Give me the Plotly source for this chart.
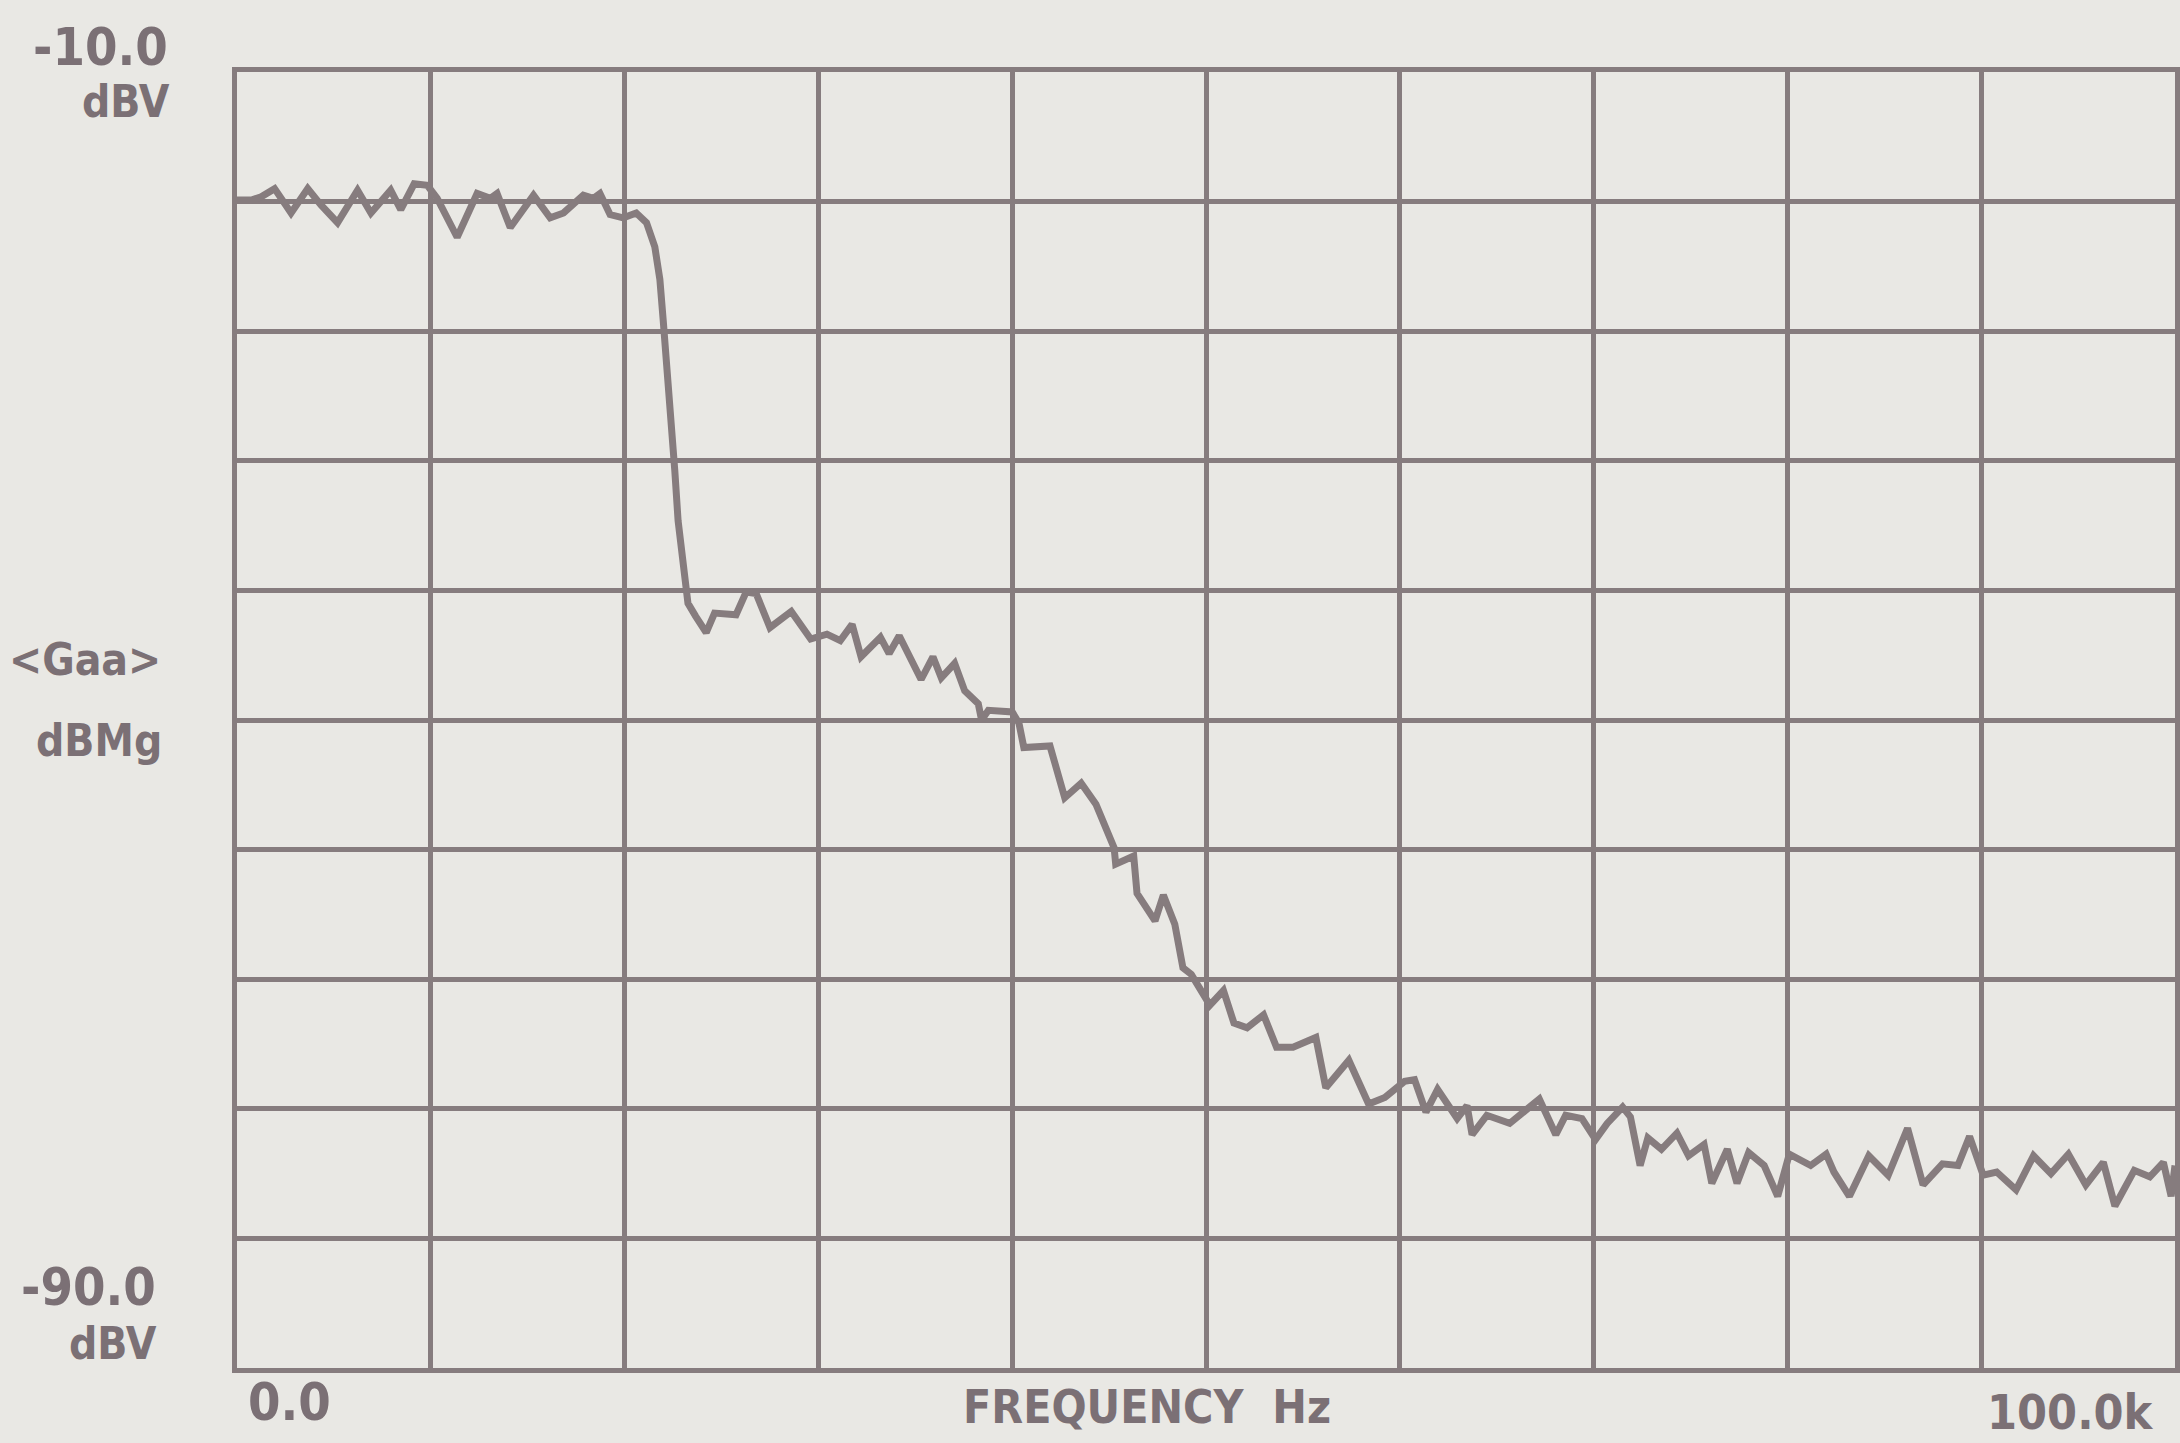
import plotly.graph_objects as go

# Frequency (kHz) and level (dB)
freq_khz = [
    0.0, 0.74, 1.25, 1.94, 2.79, 3.65, 4.33, 5.19, 6.22, 6.91, 7.93, 8.45, 9.14, 9.82,
    10.33, 11.36, 12.39, 13.07, 13.42, 14.1, 15.3, 16.16, 16.85, 17.87, 18.39, 18.73,
    19.25, 19.93, 20.6, 21.13, 21.56, 21.82, 21.99, 22.16, 22.42, 22.59, 22.76, 23.02,
    23.27, 23.67, 24.21, 24.64, 25.41, 25.75, 26.27, 26.79, 27.5, 28.6, 29.6, 30.44,
    31.13, 31.74, 32.2, 33.2, 33.65, 34.17, 35.3, 35.91, 36.34, 37.03, 37.55, 38.25,
    38.42, 38.77, 40.0, 40.35, 40.6, 41.95, 42.71, 43.56, 44.32, 45.26, 45.34, 46.27,
    46.44, 47.37, 47.8, 48.39, 48.81, 49.24, 50.2, 50.9, 51.44, 52.12, 52.97, 53.64,
    54.49, 55.67, 56.18, 57.37, 58.39, 59.23, 60.25, 60.76, 61.35, 61.95, 62.96, 63.47,
    63.73, 64.49, 65.67, 67.2, 68.05, 68.56, 69.4, 70.1, 70.7, 71.5, 71.9, 72.4, 72.8,
    73.5, 74.3, 74.9, 75.7, 76.1, 76.9, 77.4, 78.0, 78.8, 79.5, 80.1, 81.2, 82.0, 82.4,
    83.2, 84.2, 85.2, 86.2, 87.0, 88.0, 88.8, 89.4, 90.1, 90.8, 91.8, 92.7, 93.6, 94.5,
    95.4, 96.3, 96.9, 97.9, 98.7, 99.4, 99.8, 100.0,
]
level_db = [
    -17.9, -17.9, -17.7, -17.2, -18.7, -17.2, -18.2, -19.3, -17.3, -18.7, -17.3, -18.5, -16.9, -17.0,
    -17.8, -20.2, -17.5, -17.8, -17.5, -19.6, -17.6, -19.0, -18.7, -17.6, -17.8, -17.5,
    -18.8, -19.0, -18.7, -19.3, -20.8, -22.8, -25.3, -28.4, -31.5, -34.6, -37.7, -40.8,
    -42.8, -43.6, -44.6, -43.4, -43.4, -43.5, -42.1, -42.2, -44.3, -43.3, -45.0, -44.7,
    -45.1, -44.1, -46.1, -44.9, -45.9, -44.8, -47.5, -46.1, -47.4, -46.5, -48.2, -49.0,
    -50.0, -49.4, -49.5, -50.2, -51.7, -51.6, -54.8, -53.9, -55.2, -57.9, -58.9, -58.4,
    -60.7, -62.4, -60.8, -62.6, -65.3, -65.7, -67.6, -66.7, -68.7, -69.0, -68.2, -70.2,
    -70.2, -69.6, -72.7, -71.0, -73.7, -73.3, -72.3, -72.2, -74.2, -72.8, -74.6, -73.8,
    -75.6, -74.4, -74.9, -73.4, -75.6, -74.4, -74.6, -75.9, -74.9, -73.9, -74.5, -77.5, -75.8,
    -76.5, -75.5, -76.9, -76.2, -78.6, -76.5, -78.6, -76.7, -77.5, -79.4, -76.8, -77.5, -76.8, -77.9,
    -79.4, -76.9, -78.1, -75.2, -78.7, -77.4, -77.5, -75.7, -78.1, -77.9, -79.0, -76.9, -78.0, -76.8,
    -78.7, -77.3, -80.0, -77.8, -78.2, -77.3, -79.4, -77.5,
]

x_range = [0, 100]
y_range = [-90, -10]
x_tick_step = 10
y_tick_step = 8

W, H = 2180, 1443
ML, MR, MT, MB = 237, 0, 72, 75
PW, PH = W - ML - MR, H - MT - MB

BG = "#e9e8e4"
INK = "#867c7e"
TXT = "#7b7075"
FONT = "DejaVu Sans Condensed, DejaVu Sans, sans-serif"


def px(xp):
    return (xp - ML) / PW


def py(yp):
    return (H - MB - yp) / PH


fig = go.Figure()
fig.add_trace(go.Scatter(
    x=freq_khz, y=level_db, mode="lines",
    line=dict(color=INK, width=7), showlegend=False, hoverinfo="skip",
))

axis_common = dict(
    showgrid=True, gridcolor=INK, gridwidth=5,
    showline=True, linecolor=INK, linewidth=5, mirror=True,
    zeroline=False, showticklabels=False, ticks="",
)
fig.update_xaxes(range=x_range, dtick=x_tick_step, tick0=0, **axis_common)
fig.update_yaxes(range=y_range, dtick=y_tick_step, tick0=-90, **axis_common)

labels = [
    ("-10.0", 170, 47, "right", 52),
    ("dBV", 172, 102, "right", 44),
    ("<Gaa>", 163, 659, "right", 44),
    ("dBMg", 164, 740, "right", 44),
    ("-90.0", 158, 1287, "right", 52),
    ("dBV", 159, 1343, "right", 44),
    ("0.0", 290, 1402, "center", 52),
    ("FREQUENCY  Hz", 1149, 1407, "center", 46),
    ("100.0k", 2075, 1412, "center", 48),
]
for text, x, y, anchor, size in labels:
    fig.add_annotation(
        text=text, x=px(x), y=py(y), xref="paper", yref="paper",
        xanchor=anchor, yanchor="middle", showarrow=False,
        font=dict(family=FONT, size=size, color=TXT, weight="bold"),
    )

fig.update_layout(
    width=W, height=H,
    margin=dict(l=ML, r=MR, t=MT, b=MB),
    paper_bgcolor=BG, plot_bgcolor=BG,
)

fig.write_html("out.html")
